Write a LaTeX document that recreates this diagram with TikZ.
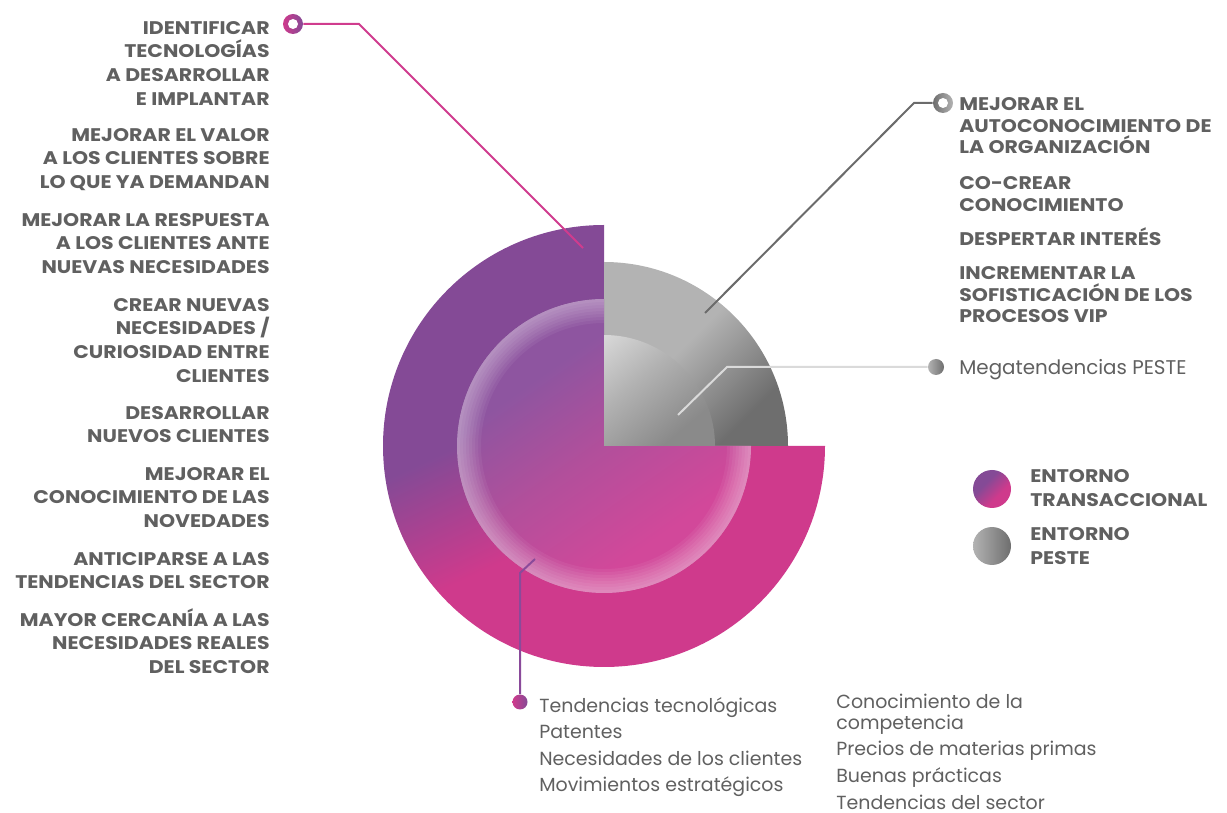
\documentclass[tikz,border=0pt]{standalone}
\usepackage{fontspec}
\setmainfont{Poppins}
\newfontfamily\widefont[FakeStretch=1.12]{Poppins}
\definecolor{tgray}{HTML}{606060}
\definecolor{purp}{HTML}{844A96}
\definecolor{pnk}{HTML}{CF3A8C}
\definecolor{ipurp}{HTML}{8E55A0}
\definecolor{imid}{HTML}{B24F9B}
\definecolor{ipnk}{HTML}{D2489A}
\definecolor{glight}{HTML}{B3B3B3}
\definecolor{gdark}{HTML}{6E6E6E}
\definecolor{glight2}{HTML}{D8D8D8}
\definecolor{gmid2}{HTML}{B2B2B2}
\definecolor{gdark2}{HTML}{8A8A8A}
\definecolor{pinkline}{HTML}{D03C8E}
\definecolor{grayline}{HTML}{6B6B6B}
\definecolor{lightline}{HTML}{DADADA}
\definecolor{purpline}{HTML}{8A4A9A}
\pgfdeclareverticalshading{ringsh}{100bp}{color(0bp)=(pnk); color(43bp)=(pnk); color(57bp)=(purp); color(100bp)=(purp)}
\pgfdeclareverticalshading{discsh}{100bp}{color(0bp)=(ipnk); color(32bp)=(ipnk); color(50bp)=(imid); color(66bp)=(ipurp); color(100bp)=(ipurp)}
\pgfdeclareverticalshading{gsh}{100bp}{color(0bp)=(gdark); color(28bp)=(gdark); color(54bp)=(glight); color(100bp)=(glight)}
\pgfdeclareverticalshading{gish}{100bp}{color(0bp)=(gdark2); color(30bp)=(gdark2); color(60bp)=(gmid2); color(85bp)=(glight2); color(100bp)=(glight2)}
\pgfdeclareverticalshading{legsh}{100bp}{color(0bp)=(pnk); color(38bp)=(pnk); color(62bp)=(purp); color(100bp)=(purp)}
\begin{document}
\begin{tikzpicture}[x=0.02cm,y=-0.02cm,
  lbl/.style={font=\widefont\bfseries\fontsize{10.4}{13.5}\selectfont, text=tgray, align=right, anchor=base east, inner sep=0pt},
  rbl/.style={font=\widefont\bfseries\fontsize{10.4}{12.3}\selectfont, text=tgray, align=left, anchor=base west, inner sep=0pt},
  legl/.style={font=\widefont\bfseries\fontsize{10.4}{13.5}\selectfont, text=tgray, align=left, anchor=base west, inner sep=0pt},
  reg/.style={font=\fontsize{10.8}{15}\selectfont, text=tgray, align=left, anchor=base west, inner sep=0pt},
  conn/.style={line width=0.04cm},
  dot/.style={circle, inner sep=0pt, minimum size=#1},
]
\useasboundingbox (0,0) rectangle (1227,813);
\coordinate (O) at (604,446);
% outer transactional ring
\shade[shading=ringsh, shading angle=25] (O) -- ++(0:221) arc[start angle=0,end angle=270,radius=221] -- cycle;
% outer peste quadrant
\shade[shading=gsh, shading angle=45] (O) -- ++(270:184) arc[start angle=270,end angle=360,radius=184] -- cycle;
% inner transactional disc
\shade[shading=discsh, shading angle=35] (O) -- ++(0:147) arc[start angle=0,end angle=270,radius=147] -- cycle;
\foreach \k in {1,...,8} {
  \fill[white, opacity=0.055, even odd rule] (O) -- ++(0:147) arc[start angle=0,end angle=270,radius=147] -- cycle
     (O) -- ++(0:{147-3*\k}) arc[start angle=0,end angle=270,radius={147-3*\k}] -- cycle;
}
% inner peste quadrant
\shade[shading=gish, shading angle=40] (O) -- ++(270:111) arc[start angle=270,end angle=360,radius=111] -- cycle;

% connector 1 (pink)
\node[dot=0.4cm, left color=pnk, right color=purp] (ring1) at (293,24) {};
\fill[white] (ring1.center) circle (5);
\coordinate (b1) at (359,24);
\coordinate (e1) at (583,248);
\draw[conn, pinkline] (ring1.east) -- (b1) -- (e1);
% connector 2 (gray)
\node[dot=0.4cm, left color=gdark, right color=glight] (ring2) at (943,103) {};
\fill[white] (ring2.center) circle (5);
\coordinate (b2) at (914,103);
\coordinate (e2) at (705,313);
\draw[conn, grayline] (ring2.west) -- (b2) -- (e2);
% connector 3 (light gray)
\node[dot=0.32cm, left color=glight, right color=gdark] (dot3) at (936,367) {};
\coordinate (b3) at (727,367);
\coordinate (e3) at (678,415);
\draw[conn, lightline] (dot3.west) -- (b3) -- (e3);
% connector 4 (purple)
\node[dot=0.3cm, left color=pnk, right color=purp] (dot4) at (520,702) {};
\coordinate (b4) at (520,573);
\coordinate (e4) at (535,559);
\draw[conn, purpline] (dot4.north) -- (b4) -- (e4);

% left labels (anchored at the baseline of the last line)
\node[lbl] (t1) at (270,105.4) {IDENTIFICAR\\TECNOLOGÍAS\\A DESARROLLAR\\E IMPLANTAR};
\node[lbl] (t2) at (270,188.6) {MEJORAR EL VALOR\\A LOS CLIENTES SOBRE\\LO QUE YA DEMANDAN};
\node[lbl] (t3) at (270,273.6) {MEJORAR LA RESPUESTA\\A LOS CLIENTES ANTE\\NUEVAS NECESIDADES};
\node[lbl] (t4) at (270,382.4) {CREAR NUEVAS\\NECESIDADES /\\CURIOSIDAD ENTRE\\CLIENTES};
\node[lbl] (t5) at (270,442.8) {DESARROLLAR\\NUEVOS CLIENTES};
\node[lbl] (t6) at (270,527.6) {MEJORAR EL\\CONOCIMIENTO DE LAS\\NOVEDADES};
\node[lbl] (t7) at (270,588.8) {ANTICIPARSE A LAS\\TENDENCIAS DEL SECTOR};
\node[lbl] (t8) at (270,673.6) {MAYOR CERCANÍA A LAS\\NECESIDADES REALES\\DEL SECTOR};

% right labels
\node[rbl] (r1) at (959,153.9) {MEJORAR EL\\AUTOCONOCIMIENTO DE\\LA ORGANIZACIÓN};
\node[rbl] (r2) at (959,211.2) {CO-CREAR\\CONOCIMIENTO};
\node[rbl] (r3) at (959,245.5) {DESPERTAR INTERÉS};
\node[rbl] (r4) at (959,322.9) {INCREMENTAR LA\\SOFISTICACIÓN DE LOS\\PROCESOS VIP};
\node[reg, font=\fontsize{11.3}{15}\selectfont] (mega) at (959,375) {Megatendencias PESTE};

% legend
\shade[shading=legsh, shading angle=45] (992,489) circle (19);
\node[dot=0.76cm] (leg1) at (992,489) {};
\node[dot=0.76cm, left color=glight, right color=gdark] (leg2) at (992,546) {};
\node[legl] (legt1) at (1030,506.3) {ENTORNO\\TRANSACCIONAL};
\node[legl] (legt2) at (1030,564.3) {ENTORNO\\PESTE};

% bottom lists
\node[reg] (list1) at (539,791.5) {Tendencias tecnológicas\\Patentes\\Necesidades de los clientes\\Movimientos estratégicos};
\node[reg, font=\fontsize{10.8}{11.9}\selectfont] (list2) at (836,809) {Conocimiento de la\\competencia\\[3.2pt]Precios de materias primas\\[3.2pt]Buenas prácticas\\[3.2pt]Tendencias del sector};
\end{tikzpicture}
\end{document}
